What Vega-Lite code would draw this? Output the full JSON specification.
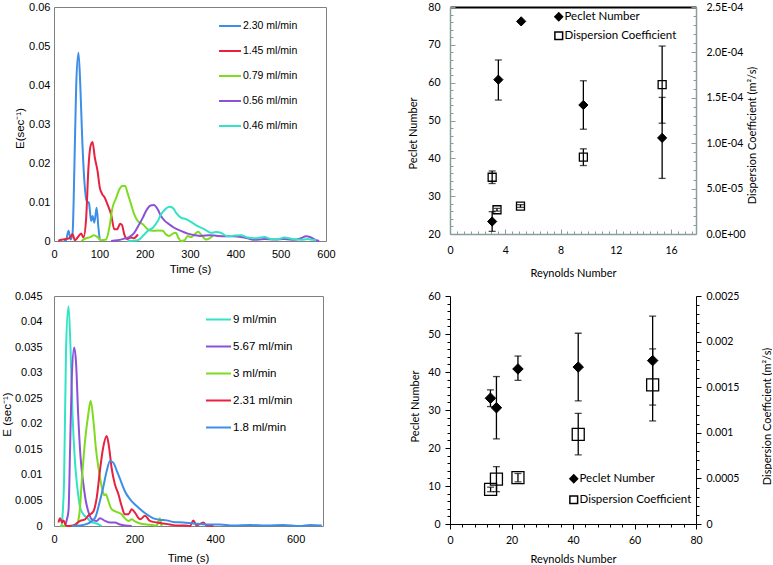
{
  "$schema": "https://vega.github.io/schema/vega-lite/v6.json",
  "background": "white",
  "padding": {"left": 0, "top": 0, "right": 0, "bottom": 0},
  "bounds": "flush",
  "columns": 2,
  "align": "each",
  "spacing": {"row": 55, "column": 124},
  "resolve": {"scale": {"x": "independent", "y": "independent", "color": "independent", "shape": "independent", "fill": "independent"}},
  "config": {
    "font": "Liberation Sans",
    "axis": {"grid": false, "labelColor": "black", "titleColor": "black", "titleFontWeight": "normal", "labelOverlap": false, "labelFlush": false},
    "legend": {"labelColor": "black"}
  },
  "datasets": {
    "tl": [
      {"s": "2.30 ml/min", "t": 22, "E": 0}, {"s": "2.30 ml/min", "t": 26, "E": 0}, {"s": "2.30 ml/min", "t": 32, "E": 0.0026}, {"s": "2.30 ml/min", "t": 37, "E": 0.0004}, {"s": "2.30 ml/min", "t": 41, "E": 0.002}, {"s": "2.30 ml/min", "t": 45, "E": 0.019}, {"s": "2.30 ml/min", "t": 49, "E": 0.04}, {"s": "2.30 ml/min", "t": 54, "E": 0.0483}, {"s": "2.30 ml/min", "t": 58, "E": 0.04}, {"s": "2.30 ml/min", "t": 62, "E": 0.027}, {"s": "2.30 ml/min", "t": 67, "E": 0.0154}, {"s": "2.30 ml/min", "t": 72, "E": 0.0103}, {"s": "2.30 ml/min", "t": 77, "E": 0.0098}, {"s": "2.30 ml/min", "t": 82, "E": 0.0051}, {"s": "2.30 ml/min", "t": 85, "E": 0.0064}, {"s": "2.30 ml/min", "t": 89, "E": 0.0047}, {"s": "2.30 ml/min", "t": 94, "E": 0.0085}, {"s": "2.30 ml/min", "t": 98, "E": 0.0034}, {"s": "2.30 ml/min", "t": 101, "E": 0.0002},
      {"s": "1.45 ml/min", "t": 10, "E": 0}, {"s": "1.45 ml/min", "t": 12, "E": 0.0002}, {"s": "1.45 ml/min", "t": 34, "E": 0.0007}, {"s": "1.45 ml/min", "t": 41, "E": 0.0017}, {"s": "1.45 ml/min", "t": 46, "E": 0.0002}, {"s": "1.45 ml/min", "t": 52, "E": 0.0009}, {"s": "1.45 ml/min", "t": 60, "E": 0.0019}, {"s": "1.45 ml/min", "t": 65, "E": 0.0009}, {"s": "1.45 ml/min", "t": 71, "E": 0.006}, {"s": "1.45 ml/min", "t": 76, "E": 0.0188}, {"s": "1.45 ml/min", "t": 80, "E": 0.024}, {"s": "1.45 ml/min", "t": 85, "E": 0.0254}, {"s": "1.45 ml/min", "t": 90, "E": 0.0214}, {"s": "1.45 ml/min", "t": 96, "E": 0.018}, {"s": "1.45 ml/min", "t": 101, "E": 0.0137}, {"s": "1.45 ml/min", "t": 106, "E": 0.0121}, {"s": "1.45 ml/min", "t": 112, "E": 0.0111}, {"s": "1.45 ml/min", "t": 118, "E": 0.0094}, {"s": "1.45 ml/min", "t": 126, "E": 0.0068}, {"s": "1.45 ml/min", "t": 133, "E": 0.003}, {"s": "1.45 ml/min", "t": 139, "E": 0.003}, {"s": "1.45 ml/min", "t": 146, "E": 0.0044}, {"s": "1.45 ml/min", "t": 150, "E": 0.0041}, {"s": "1.45 ml/min", "t": 155, "E": 0.0017}, {"s": "1.45 ml/min", "t": 162, "E": 0.0005}, {"s": "1.45 ml/min", "t": 170, "E": 0.0009}, {"s": "1.45 ml/min", "t": 176, "E": 0.0007}, {"s": "1.45 ml/min", "t": 185, "E": 0.0017},
      {"s": "0.79 ml/min", "t": 60, "E": 0}, {"s": "0.79 ml/min", "t": 71, "E": 0.0007}, {"s": "0.79 ml/min", "t": 80, "E": 0.001}, {"s": "0.79 ml/min", "t": 88, "E": 0.0015}, {"s": "0.79 ml/min", "t": 96, "E": 0.001}, {"s": "0.79 ml/min", "t": 104, "E": 0.0002}, {"s": "0.79 ml/min", "t": 115, "E": 0.0004}, {"s": "0.79 ml/min", "t": 122, "E": 0.0034}, {"s": "0.79 ml/min", "t": 129, "E": 0.0085}, {"s": "0.79 ml/min", "t": 137, "E": 0.011}, {"s": "0.79 ml/min", "t": 144, "E": 0.0132}, {"s": "0.79 ml/min", "t": 151, "E": 0.0141}, {"s": "0.79 ml/min", "t": 157, "E": 0.0141}, {"s": "0.79 ml/min", "t": 162, "E": 0.0124}, {"s": "0.79 ml/min", "t": 170, "E": 0.0094}, {"s": "0.79 ml/min", "t": 177, "E": 0.0068}, {"s": "0.79 ml/min", "t": 185, "E": 0.0051}, {"s": "0.79 ml/min", "t": 196, "E": 0.0043}, {"s": "0.79 ml/min", "t": 207, "E": 0.003}, {"s": "0.79 ml/min", "t": 218, "E": 0.0026}, {"s": "0.79 ml/min", "t": 229, "E": 0.0027}, {"s": "0.79 ml/min", "t": 240, "E": 0.0026}, {"s": "0.79 ml/min", "t": 247, "E": 0.0017}, {"s": "0.79 ml/min", "t": 254, "E": 0.0013}, {"s": "0.79 ml/min", "t": 262, "E": 0.0019}, {"s": "0.79 ml/min", "t": 269, "E": 0.0021}, {"s": "0.79 ml/min", "t": 274, "E": 0.0009}, {"s": "0.79 ml/min", "t": 280, "E": 0}, {"s": "0.79 ml/min", "t": 288, "E": 0.0002}, {"s": "0.79 ml/min", "t": 295, "E": 0.0013}, {"s": "0.79 ml/min", "t": 302, "E": 0.001}, {"s": "0.79 ml/min", "t": 310, "E": 0.0017}, {"s": "0.79 ml/min", "t": 318, "E": 0.0024}, {"s": "0.79 ml/min", "t": 324, "E": 0.0017}, {"s": "0.79 ml/min", "t": 335, "E": 0.0004}, {"s": "0.79 ml/min", "t": 343, "E": 0.0007}, {"s": "0.79 ml/min", "t": 350, "E": 0.0013},
      {"s": "0.56 ml/min", "t": 126, "E": 0}, {"s": "0.56 ml/min", "t": 140, "E": 0.0002}, {"s": "0.56 ml/min", "t": 155, "E": 0.0006}, {"s": "0.56 ml/min", "t": 166, "E": 0.001}, {"s": "0.56 ml/min", "t": 177, "E": 0.0021}, {"s": "0.56 ml/min", "t": 188, "E": 0.0043}, {"s": "0.56 ml/min", "t": 196, "E": 0.006}, {"s": "0.56 ml/min", "t": 203, "E": 0.0077}, {"s": "0.56 ml/min", "t": 213, "E": 0.0091}, {"s": "0.56 ml/min", "t": 220, "E": 0.0092}, {"s": "0.56 ml/min", "t": 229, "E": 0.0081}, {"s": "0.56 ml/min", "t": 236, "E": 0.0064}, {"s": "0.56 ml/min", "t": 245, "E": 0.0051}, {"s": "0.56 ml/min", "t": 254, "E": 0.0043}, {"s": "0.56 ml/min", "t": 265, "E": 0.0034}, {"s": "0.56 ml/min", "t": 280, "E": 0.0026}, {"s": "0.56 ml/min", "t": 295, "E": 0.0019}, {"s": "0.56 ml/min", "t": 310, "E": 0.0015}, {"s": "0.56 ml/min", "t": 324, "E": 0.0013}, {"s": "0.56 ml/min", "t": 343, "E": 0.0015}, {"s": "0.56 ml/min", "t": 361, "E": 0.0013}, {"s": "0.56 ml/min", "t": 379, "E": 0.0012}, {"s": "0.56 ml/min", "t": 398, "E": 0.0012}, {"s": "0.56 ml/min", "t": 412, "E": 0.001}, {"s": "0.56 ml/min", "t": 427, "E": 0.0007}, {"s": "0.56 ml/min", "t": 442, "E": 0.0003}, {"s": "0.56 ml/min", "t": 464, "E": 0.0005}, {"s": "0.56 ml/min", "t": 486, "E": 0.0004}, {"s": "0.56 ml/min", "t": 508, "E": 0.0005}, {"s": "0.56 ml/min", "t": 530, "E": 0.0003}, {"s": "0.56 ml/min", "t": 545, "E": 0.0007}, {"s": "0.56 ml/min", "t": 556, "E": 0.0012}, {"s": "0.56 ml/min", "t": 567, "E": 0.0009}, {"s": "0.56 ml/min", "t": 578, "E": 0.0002}, {"s": "0.56 ml/min", "t": 585, "E": 0},
      {"s": "0.46 ml/min", "t": 162, "E": 0}, {"s": "0.46 ml/min", "t": 185, "E": 0.0002}, {"s": "0.46 ml/min", "t": 196, "E": 0.0013}, {"s": "0.46 ml/min", "t": 207, "E": 0.0026}, {"s": "0.46 ml/min", "t": 218, "E": 0.0034}, {"s": "0.46 ml/min", "t": 229, "E": 0.0051}, {"s": "0.46 ml/min", "t": 236, "E": 0.0068}, {"s": "0.46 ml/min", "t": 245, "E": 0.0081}, {"s": "0.46 ml/min", "t": 254, "E": 0.0088}, {"s": "0.46 ml/min", "t": 262, "E": 0.0085}, {"s": "0.46 ml/min", "t": 269, "E": 0.0073}, {"s": "0.46 ml/min", "t": 280, "E": 0.006}, {"s": "0.46 ml/min", "t": 291, "E": 0.0056}, {"s": "0.46 ml/min", "t": 302, "E": 0.0049}, {"s": "0.46 ml/min", "t": 317, "E": 0.0038}, {"s": "0.46 ml/min", "t": 332, "E": 0.003}, {"s": "0.46 ml/min", "t": 346, "E": 0.0021}, {"s": "0.46 ml/min", "t": 357, "E": 0.0023}, {"s": "0.46 ml/min", "t": 368, "E": 0.0021}, {"s": "0.46 ml/min", "t": 383, "E": 0.0012}, {"s": "0.46 ml/min", "t": 398, "E": 0.0014}, {"s": "0.46 ml/min", "t": 412, "E": 0.0015}, {"s": "0.46 ml/min", "t": 427, "E": 0.0009}, {"s": "0.46 ml/min", "t": 442, "E": 0.0007}, {"s": "0.46 ml/min", "t": 464, "E": 0.001}, {"s": "0.46 ml/min", "t": 479, "E": 0.0005}, {"s": "0.46 ml/min", "t": 493, "E": 0.0004}, {"s": "0.46 ml/min", "t": 508, "E": 0.0009}, {"s": "0.46 ml/min", "t": 526, "E": 0.0005}, {"s": "0.46 ml/min", "t": 545, "E": 0.0003}, {"s": "0.46 ml/min", "t": 560, "E": 0.0005}, {"s": "0.46 ml/min", "t": 570, "E": 0.0003}, {"s": "0.46 ml/min", "t": 578, "E": 0.0002}
    ],
    "bl": [
      {"s": "9 ml/min", "t": 19, "E": 0}, {"s": "9 ml/min", "t": 25, "E": 0.0088}, {"s": "9 ml/min", "t": 30, "E": 0.0349}, {"s": "9 ml/min", "t": 36, "E": 0.043}, {"s": "9 ml/min", "t": 41, "E": 0.0349}, {"s": "9 ml/min", "t": 46, "E": 0.0218}, {"s": "9 ml/min", "t": 52, "E": 0.0127}, {"s": "9 ml/min", "t": 58, "E": 0.0075}, {"s": "9 ml/min", "t": 65, "E": 0.0036}, {"s": "9 ml/min", "t": 73, "E": 0.0023}, {"s": "9 ml/min", "t": 83, "E": 0.0015}, {"s": "9 ml/min", "t": 94, "E": 0.0007}, {"s": "9 ml/min", "t": 106, "E": 0.0005}, {"s": "9 ml/min", "t": 118, "E": 0},
      {"s": "5.67 ml/min", "t": 27, "E": 0}, {"s": "5.67 ml/min", "t": 31, "E": 0.001}, {"s": "5.67 ml/min", "t": 36, "E": 0.003}, {"s": "5.67 ml/min", "t": 40, "E": 0.0153}, {"s": "5.67 ml/min", "t": 44, "E": 0.0284}, {"s": "5.67 ml/min", "t": 50, "E": 0.0349}, {"s": "5.67 ml/min", "t": 55, "E": 0.0316}, {"s": "5.67 ml/min", "t": 60, "E": 0.0218}, {"s": "5.67 ml/min", "t": 66, "E": 0.0134}, {"s": "5.67 ml/min", "t": 73, "E": 0.0082}, {"s": "5.67 ml/min", "t": 79, "E": 0.0049}, {"s": "5.67 ml/min", "t": 85, "E": 0.0029}, {"s": "5.67 ml/min", "t": 94, "E": 0.0013}, {"s": "5.67 ml/min", "t": 106, "E": 0.001}, {"s": "5.67 ml/min", "t": 114, "E": 0.0015}, {"s": "5.67 ml/min", "t": 127, "E": 0.001}, {"s": "5.67 ml/min", "t": 139, "E": 0.0007}, {"s": "5.67 ml/min", "t": 151, "E": 0.0007}, {"s": "5.67 ml/min", "t": 164, "E": 0.0003}, {"s": "5.67 ml/min", "t": 176, "E": 0.0001}, {"s": "5.67 ml/min", "t": 193, "E": 0},
      {"s": "3 ml/min", "t": 15, "E": 0}, {"s": "3 ml/min", "t": 40, "E": 0}, {"s": "3 ml/min", "t": 56, "E": 0.0003}, {"s": "3 ml/min", "t": 63, "E": 0.0023}, {"s": "3 ml/min", "t": 69, "E": 0.0088}, {"s": "3 ml/min", "t": 77, "E": 0.0166}, {"s": "3 ml/min", "t": 85, "E": 0.0218}, {"s": "3 ml/min", "t": 91, "E": 0.0245}, {"s": "3 ml/min", "t": 98, "E": 0.0205}, {"s": "3 ml/min", "t": 104, "E": 0.0153}, {"s": "3 ml/min", "t": 113, "E": 0.0101}, {"s": "3 ml/min", "t": 121, "E": 0.0068}, {"s": "3 ml/min", "t": 125, "E": 0.006}, {"s": "3 ml/min", "t": 129, "E": 0.0062}, {"s": "3 ml/min", "t": 135, "E": 0.0049}, {"s": "3 ml/min", "t": 143, "E": 0.0033}, {"s": "3 ml/min", "t": 151, "E": 0.0029}, {"s": "3 ml/min", "t": 160, "E": 0.0026}, {"s": "3 ml/min", "t": 168, "E": 0.0023}, {"s": "3 ml/min", "t": 176, "E": 0.0015}, {"s": "3 ml/min", "t": 185, "E": 0.001}, {"s": "3 ml/min", "t": 193, "E": 0.0013}, {"s": "3 ml/min", "t": 201, "E": 0.0009}, {"s": "3 ml/min", "t": 214, "E": 0.0005}, {"s": "3 ml/min", "t": 230, "E": 0.0003}, {"s": "3 ml/min", "t": 242, "E": 0.0002}, {"s": "3 ml/min", "t": 255, "E": 0.0001}, {"s": "3 ml/min", "t": 263, "E": 0.0015}, {"s": "3 ml/min", "t": 267, "E": 0},
      {"s": "2.31 ml/min", "t": 11, "E": 0.0007}, {"s": "2.31 ml/min", "t": 15, "E": 0.0015}, {"s": "2.31 ml/min", "t": 20, "E": 0.0007}, {"s": "2.31 ml/min", "t": 23, "E": 0.0011}, {"s": "2.31 ml/min", "t": 31, "E": 0}, {"s": "2.31 ml/min", "t": 48, "E": 0.0001}, {"s": "2.31 ml/min", "t": 65, "E": 0.001}, {"s": "2.31 ml/min", "t": 77, "E": 0.0013}, {"s": "2.31 ml/min", "t": 85, "E": 0.002}, {"s": "2.31 ml/min", "t": 98, "E": 0.0029}, {"s": "2.31 ml/min", "t": 106, "E": 0.0055}, {"s": "2.31 ml/min", "t": 114, "E": 0.0108}, {"s": "2.31 ml/min", "t": 122, "E": 0.0153}, {"s": "2.31 ml/min", "t": 131, "E": 0.0176}, {"s": "2.31 ml/min", "t": 137, "E": 0.0153}, {"s": "2.31 ml/min", "t": 143, "E": 0.0114}, {"s": "2.31 ml/min", "t": 151, "E": 0.0082}, {"s": "2.31 ml/min", "t": 160, "E": 0.0062}, {"s": "2.31 ml/min", "t": 168, "E": 0.0039}, {"s": "2.31 ml/min", "t": 176, "E": 0.0023}, {"s": "2.31 ml/min", "t": 185, "E": 0.0023}, {"s": "2.31 ml/min", "t": 193, "E": 0.0033}, {"s": "2.31 ml/min", "t": 201, "E": 0.0026}, {"s": "2.31 ml/min", "t": 214, "E": 0.0013}, {"s": "2.31 ml/min", "t": 226, "E": 0.002}, {"s": "2.31 ml/min", "t": 238, "E": 0.001}, {"s": "2.31 ml/min", "t": 255, "E": 0.0007}, {"s": "2.31 ml/min", "t": 271, "E": 0.0005}, {"s": "2.31 ml/min", "t": 288, "E": 0.0003}, {"s": "2.31 ml/min", "t": 305, "E": 0.0001}, {"s": "2.31 ml/min", "t": 325, "E": 0.0001}, {"s": "2.31 ml/min", "t": 338, "E": 0}, {"s": "2.31 ml/min", "t": 346, "E": 0.0011}, {"s": "2.31 ml/min", "t": 354, "E": 0.0001}, {"s": "2.31 ml/min", "t": 371, "E": 0.0007}, {"s": "2.31 ml/min", "t": 379, "E": 0.0001}, {"s": "2.31 ml/min", "t": 396, "E": 0},
      {"s": "1.8 ml/min", "t": 44, "E": 0}, {"s": "1.8 ml/min", "t": 65, "E": 0.0001}, {"s": "1.8 ml/min", "t": 85, "E": 0.0005}, {"s": "1.8 ml/min", "t": 102, "E": 0.0016}, {"s": "1.8 ml/min", "t": 114, "E": 0.0049}, {"s": "1.8 ml/min", "t": 122, "E": 0.0075}, {"s": "1.8 ml/min", "t": 131, "E": 0.0108}, {"s": "1.8 ml/min", "t": 139, "E": 0.0127}, {"s": "1.8 ml/min", "t": 147, "E": 0.0124}, {"s": "1.8 ml/min", "t": 156, "E": 0.0108}, {"s": "1.8 ml/min", "t": 166, "E": 0.0088}, {"s": "1.8 ml/min", "t": 176, "E": 0.0068}, {"s": "1.8 ml/min", "t": 189, "E": 0.0052}, {"s": "1.8 ml/min", "t": 201, "E": 0.0042}, {"s": "1.8 ml/min", "t": 214, "E": 0.0033}, {"s": "1.8 ml/min", "t": 230, "E": 0.0023}, {"s": "1.8 ml/min", "t": 247, "E": 0.0015}, {"s": "1.8 ml/min", "t": 263, "E": 0.0012}, {"s": "1.8 ml/min", "t": 280, "E": 0.0011}, {"s": "1.8 ml/min", "t": 296, "E": 0.0008}, {"s": "1.8 ml/min", "t": 321, "E": 0.0007}, {"s": "1.8 ml/min", "t": 346, "E": 0.0005}, {"s": "1.8 ml/min", "t": 379, "E": 0.0003}, {"s": "1.8 ml/min", "t": 412, "E": 0.0003}, {"s": "1.8 ml/min", "t": 445, "E": 0.0001}, {"s": "1.8 ml/min", "t": 487, "E": 0.0002}, {"s": "1.8 ml/min", "t": 528, "E": 0.0001}, {"s": "1.8 ml/min", "t": 569, "E": 0.0002}, {"s": "1.8 ml/min", "t": 611, "E": 0}, {"s": "1.8 ml/min", "t": 636, "E": 0.0002}, {"s": "1.8 ml/min", "t": 665, "E": 0.0001}
    ],
    "trPe": [
      {"re": 3.05, "pe": 23.3, "lo": 20.7, "hi": 25.9},
      {"re": 3.5, "pe": 60.8, "lo": 55.4, "hi": 66.0},
      {"re": 5.15, "pe": 76.2, "lo": null, "hi": null},
      {"re": 9.65, "pe": 54.1, "lo": 47.7, "hi": 60.5},
      {"re": 15.35, "pe": 45.4, "lo": 34.7, "hi": 56.1}
    ],
    "trD": [
      {"re": 3.05, "d": 0.0000625, "lo": 0.0000556, "hi": 0.0000694},
      {"re": 3.4, "d": 0.0000267, "lo": 0.0000252, "hi": 0.0000282},
      {"re": 5.1, "d": 0.0000308, "lo": 0.0000293, "hi": 0.0000323},
      {"re": 9.65, "d": 0.0000846, "lo": 0.0000754, "hi": 0.0000938},
      {"re": 15.35, "d": 0.0001646, "lo": 0.000122, "hi": 0.000207}
    ],
    "brPe": [
      {"re": 13.15, "pe": 33.1, "lo": 30.9, "hi": 35.3},
      {"re": 15.1, "pe": 30.6, "lo": 22.4, "hi": 38.8},
      {"re": 22.1, "pe": 40.8, "lo": 37.8, "hi": 44.2},
      {"re": 41.7, "pe": 41.3, "lo": 32.4, "hi": 50.2},
      {"re": 65.9, "pe": 43.0, "lo": 31.3, "hi": 54.7}
    ],
    "brD": [
      {"re": 13.2, "d": 0.000379, "lo": 0.000354, "hi": 0.000404},
      {"re": 15.1, "d": 0.000492, "lo": 0.000355, "hi": 0.000629},
      {"re": 22.1, "d": 0.000508, "lo": 0.000462, "hi": 0.000554},
      {"re": 41.7, "d": 0.000983, "lo": 0.000758, "hi": 0.001213},
      {"re": 65.9, "d": 0.001525, "lo": 0.00113, "hi": 0.00192}
    ]
  },
  "concat": [
    {
      "width": 272, "height": 234,
      "view": {"stroke": "#808080", "strokeWidth": 1},
      "data": {"name": "tl"},
      "mark": {"type": "line", "strokeWidth": 2, "interpolate": "monotone"},
      "encoding": {
        "x": {"field": "t", "type": "quantitative", "scale": {"domain": [0, 600], "nice": false},
          "axis": {"title": "Time (s)", "values": [0, 100, 200, 300, 400, 500, 600], "domain": false, "ticks": false, "labelOverlap": false, "labelPadding": 7, "labelFont": "Liberation Sans", "labelFontSize": 11, "titleFont": "Liberation Sans", "titleFontSize": 11.5, "titleX": 136, "titleY": 28, "titleBaseline": "middle", "titleAlign": "center"}},
        "y": {"field": "E", "type": "quantitative", "scale": {"domain": [0, 0.06], "nice": false},
          "axis": {"title": "E(sec⁻¹)", "values": [0, 0.01, 0.02, 0.03, 0.04, 0.05, 0.06], "format": ".2~f", "domain": false, "ticks": false, "labelOverlap": false, "labelPadding": 4, "labelFont": "Liberation Sans", "labelFontSize": 11, "titleFont": "Liberation Sans", "titleFontSize": 11.5, "titleX": -34, "titleY": 121, "titleAngle": -90, "titleAlign": "center", "titleBaseline": "middle"}},
        "color": {"field": "s", "type": "nominal",
          "scale": {"domain": ["2.30 ml/min", "1.45 ml/min", "0.79 ml/min", "0.56 ml/min", "0.46 ml/min"], "range": ["#3d8ee6", "#e8213f", "#7ddc1f", "#8b52d8", "#33e3c6"]},
          "legend": {"title": null, "orient": "none", "legendX": 164, "legendY": 7, "symbolType": "stroke", "symbolSize": 484, "symbolStrokeWidth": 2, "labelFont": "Liberation Sans", "labelFontSize": 10.5, "labelOffset": 1, "rowPadding": 7}}
      }
    },
    {
      "width": 246, "height": 227,
      "view": {"stroke": null},
      "layer": [
        {
          "data": {"name": "trPe"},
          "layer": [
            {"mark": {"type": "errorbar", "ticks": {"size": 7}, "color": "black", "thickness": 1.3},
             "encoding": {
               "x": {"field": "re", "type": "quantitative", "title": "Reynolds Number", "scale": {"domain": [0, 17.8], "nice": false, "zero": false}},
               "y": {"field": "lo", "type": "quantitative", "title": "Peclet Number", "scale": {"domain": [20, 80], "nice": false, "zero": false}},
               "y2": {"field": "hi"}}},
            {"mark": {"type": "point", "filled": true, "stroke": "black", "strokeWidth": 1, "opacity": 1, "size": 85},
             "encoding": {
               "x": {"field": "re", "type": "quantitative", "title": "Reynolds Number", "scale": {"domain": [0, 17.8], "nice": false, "zero": false},
                 "axis": {"title": "Reynolds Number", "tickCount": 1000, "values": [0, 0.5, 1, 1.5, 2, 2.5, 3, 3.5, 4, 4.5, 5, 5.5, 6, 6.5, 7, 7.5, 8, 8.5, 9, 9.5, 10, 10.5, 11, 11.5, 12, 12.5, 13, 13.5, 14, 14.5, 15, 15.5, 16, 16.5, 17, 17.5],
                   "labelExpr": "datum.value % 4 == 0 ? format(datum.value, 'd') : ' '", "tickSize": {"condition": {"test": "datum.value % 4 == 0", "value": -5}, "value": -3}, "labelOverlap": false,
                   "labelFontSize": {"condition": {"test": "datum.value % 4 == 0", "value": 10.5}, "value": 0},
                   "domainColor": "#8a9c9c", "domainWidth": 1.5, "tickColor": "#8a9c9c", "labelPadding": 16, "labelFont": "Lato", "titleFont": "Lato", "titleFontSize": 11, "titleX": 123, "titleY": 39, "titleBaseline": "middle", "titleAlign": "center"}},
               "y": {"field": "pe", "type": "quantitative", "title": "Peclet Number", "scale": {"domain": [20, 80], "nice": false, "zero": false},
                 "axis": {"title": "Peclet Number", "orient": "left", "tickCount": 1000, "values": [20, 22, 24, 26, 28, 30, 32, 34, 36, 38, 40, 42, 44, 46, 48, 50, 52, 54, 56, 58, 60, 62, 64, 66, 68, 70, 72, 74, 76, 78, 80],
                   "labelExpr": "datum.value % 10 == 0 ? format(datum.value, 'd') : ' '", "tickSize": {"condition": {"test": "datum.value % 10 == 0", "value": -5}, "value": -3}, "labelOverlap": false,
                   "labelFontSize": {"condition": {"test": "datum.value % 10 == 0", "value": 10.5}, "value": 0},
                   "domainColor": "#8a9c9c", "domainWidth": 1.5, "tickColor": "#8a9c9c", "labelPadding": 15, "labelFont": "Lato", "titleFont": "Lato", "titleFontSize": 11, "titleX": -37, "titleY": 126, "titleAngle": -90, "titleBaseline": "middle", "titleAlign": "center"}},
               "shape": {"datum": "Peclet Number", "type": "nominal", "scale": {"domain": ["Peclet Number", "Dispersion Coefficient"], "range": ["diamond", "square"]},
                 "legend": {"title": null, "orient": "none", "legendX": 103, "legendY": 4, "symbolSize": 60, "labelFont": "Lato", "labelFontSize": 11.5, "labelOffset": 0, "rowPadding": 4,
                   "encode": {"symbols": {"update": {"stroke": {"value": "black"}, "strokeWidth": {"value": 1.2}}}}}},
               "fill": {"datum": "Peclet Number", "type": "nominal", "scale": {"domain": ["Peclet Number", "Dispersion Coefficient"], "range": ["black", "transparent"]},
                 "legend": {"title": null, "orient": "none", "legendX": 103, "legendY": 4, "symbolSize": 60, "labelFont": "Lato", "labelFontSize": 11.5, "labelOffset": 0, "rowPadding": 4,
                   "encode": {"symbols": {"update": {"stroke": {"value": "black"}, "strokeWidth": {"value": 1.2}}}}}}
             }}
          ]
        },
        {
          "data": {"name": "trD"},
          "layer": [
            {"mark": {"type": "errorbar", "ticks": {"size": 7}, "color": "black", "thickness": 1.3},
             "encoding": {
               "x": {"field": "re", "type": "quantitative", "scale": {"domain": [0, 17.8], "nice": false, "zero": false}},
               "y": {"field": "lo", "type": "quantitative", "title": "Dispersion Coefficient (m²/s)", "scale": {"domain": [0, 0.00025], "nice": false, "zero": false}},
               "y2": {"field": "hi"}}},
            {"mark": {"type": "point", "filled": true, "stroke": "black", "strokeWidth": 1.3, "opacity": 1, "size": 64},
             "encoding": {
               "x": {"field": "re", "type": "quantitative", "scale": {"domain": [0, 17.8], "nice": false, "zero": false},
                 "axis": {"orient": "top", "title": null, "labels": false, "ticks": false, "domainColor": "black", "domainWidth": 2}},
               "y": {"field": "d", "type": "quantitative", "title": "Dispersion Coefficient (m²/s)", "scale": {"domain": [0, 0.00025], "nice": false, "zero": false},
                 "axis": {"title": "Dispersion Coefficient (m²/s)", "orient": "right", "tickCount": 1000, "values": [0, 0.00001, 0.00002, 0.00003, 0.00004, 0.00005, 0.00006, 0.00007, 0.00008, 0.00009, 0.0001, 0.00011, 0.00012, 0.00013, 0.00014, 0.00015, 0.00016, 0.00017, 0.00018, 0.00019, 0.0002, 0.00021, 0.00022, 0.00023, 0.00024, 0.00025],
                   "labelExpr": "abs(datum.value/0.00005 - round(datum.value/0.00005)) < 0.001 ? (datum.value == 0 ? '0.0E+00' : (datum.value < 0.0000999 ? format(datum.value*100000, '.1f') + 'E-05' : format(datum.value*10000, '.1f') + 'E-04')) : ' '",
                   "tickSize": {"condition": {"test": "abs(datum.value/0.00005 - round(datum.value/0.00005)) < 0.001", "value": -5}, "value": -3}, "labelOverlap": false,
                   "labelFontSize": {"condition": {"test": "abs(datum.value/0.00005 - round(datum.value/0.00005)) < 0.001", "value": 10.5}, "value": 0},
                   "domainColor": "#8a9c9c", "domainWidth": 1.5, "tickColor": "#8a9c9c", "labelPadding": 15, "labelFont": "Lato", "titleFont": "Lato", "titleFontSize": 11, "titleX": 56, "titleY": 128, "titleAngle": -90, "titleBaseline": "middle", "titleAlign": "center"}},
               "shape": {"datum": "Dispersion Coefficient", "type": "nominal", "scale": {"domain": ["Peclet Number", "Dispersion Coefficient"], "range": ["diamond", "square"]}},
               "fill": {"datum": "Dispersion Coefficient", "type": "nominal", "scale": {"domain": ["Peclet Number", "Dispersion Coefficient"], "range": ["black", "transparent"]}}
             }}
          ]
        }
      ],
      "resolve": {"scale": {"y": "independent"}, "axis": {"x": "independent"}}
    },
    {
      "width": 269, "height": 230,
      "view": {"stroke": "#808080", "strokeWidth": 1},
      "data": {"name": "bl"},
      "mark": {"type": "line", "strokeWidth": 2, "interpolate": "monotone"},
      "encoding": {
        "x": {"field": "t", "type": "quantitative", "scale": {"domain": [0, 668], "nice": false},
          "axis": {"title": "Time (s)", "values": [0, 200, 400, 600], "domain": false, "ticks": false, "labelOverlap": false, "labelPadding": 7, "labelFont": "Liberation Sans", "labelFontSize": 11, "titleFont": "Liberation Sans", "titleFontSize": 11.5, "titleX": 134, "titleY": 32, "titleBaseline": "middle", "titleAlign": "center"}},
        "y": {"field": "E", "type": "quantitative", "scale": {"domain": [0, 0.045], "nice": false},
          "axis": {"title": "E (sec⁻¹)", "values": [0, 0.005, 0.01, 0.015, 0.02, 0.025, 0.03, 0.035, 0.04, 0.045], "format": ".3~f", "domain": false, "ticks": false, "labelOverlap": false, "labelPadding": 12, "labelFont": "Liberation Sans", "labelFontSize": 11, "titleFont": "Liberation Sans", "titleFontSize": 11.5, "titleX": -47, "titleY": 118, "titleAngle": -90, "titleAlign": "center", "titleBaseline": "middle"}},
        "color": {"field": "s", "type": "nominal",
          "scale": {"domain": ["9 ml/min", "5.67 ml/min", "3 ml/min", "2.31 ml/min", "1.8 ml/min"], "range": ["#33e3c6", "#8b52d8", "#7ddc1f", "#e8213f", "#3d8ee6"]},
          "legend": {"title": null, "orient": "none", "legendX": 151, "legendY": 10, "symbolType": "stroke", "symbolSize": 625, "symbolStrokeWidth": 2, "labelFont": "Liberation Sans", "labelFontSize": 11.5, "labelOffset": 1, "rowPadding": 8}}
      }
    },
    {
      "width": 246, "height": 228,
      "view": {"stroke": null},
      "layer": [
        {
          "data": {"name": "brPe"},
          "layer": [
            {"mark": {"type": "errorbar", "ticks": {"size": 7}, "color": "black", "thickness": 1.3},
             "encoding": {
               "x": {"field": "re", "type": "quantitative", "title": "Reynolds Number", "scale": {"domain": [0, 80], "nice": false, "zero": false}},
               "y": {"field": "lo", "type": "quantitative", "title": "Peclet Number", "scale": {"domain": [0, 60], "nice": false}},
               "y2": {"field": "hi"}}},
            {"mark": {"type": "point", "filled": true, "stroke": "black", "strokeWidth": 1, "opacity": 1, "size": 110},
             "encoding": {
               "x": {"field": "re", "type": "quantitative", "title": "Reynolds Number", "scale": {"domain": [0, 80], "nice": false, "zero": false},
                 "axis": {"title": "Reynolds Number", "tickCount": 1000, "values": [0, 4, 8, 12, 16, 20, 24, 28, 32, 36, 40, 44, 48, 52, 56, 60, 64, 68, 72, 76, 80],
                   "labelExpr": "datum.value % 20 == 0 ? format(datum.value, 'd') : ' '", "tickSize": {"condition": {"test": "datum.value % 20 == 0", "value": 5}, "value": 3}, "labelOverlap": false,
                   "labelFontSize": {"condition": {"test": "datum.value % 20 == 0", "value": 10.5}, "value": 0},
                   "domainColor": "black", "tickColor": "black", "labelPadding": 6, "labelFont": "Lato", "titleFont": "Lato", "titleFontSize": 11, "titleX": 123, "titleY": 35, "titleBaseline": "middle", "titleAlign": "center"}},
               "y": {"field": "pe", "type": "quantitative", "title": "Peclet Number", "scale": {"domain": [0, 60], "nice": false},
                 "axis": {"title": "Peclet Number", "orient": "left", "tickCount": 1000, "values": [0, 2, 4, 6, 8, 10, 12, 14, 16, 18, 20, 22, 24, 26, 28, 30, 32, 34, 36, 38, 40, 42, 44, 46, 48, 50, 52, 54, 56, 58, 60],
                   "labelExpr": "datum.value % 10 == 0 ? format(datum.value, 'd') : ' '", "tickSize": {"condition": {"test": "datum.value % 10 == 0", "value": 5}, "value": 3}, "labelOverlap": false,
                   "labelFontSize": {"condition": {"test": "datum.value % 10 == 0", "value": 10.5}, "value": 0},
                   "domainColor": "black", "tickColor": "black", "labelPadding": 5, "labelFont": "Lato", "titleFont": "Lato", "titleFontSize": 11, "titleX": -35, "titleY": 110, "titleAngle": -90, "titleBaseline": "middle", "titleAlign": "center"}},
               "shape": {"datum": "Peclet Number", "type": "nominal", "scale": {"domain": ["Peclet Number", "Dispersion Coefficient"], "range": ["diamond", "square"]},
                 "legend": {"title": null, "orient": "none", "legendX": 118, "legendY": 177, "symbolSize": 60, "labelFont": "Lato", "labelFontSize": 11.5, "labelOffset": 0, "rowPadding": 6,
                   "encode": {"symbols": {"update": {"stroke": {"value": "black"}, "strokeWidth": {"value": 1.2}}}}}},
               "fill": {"datum": "Peclet Number", "type": "nominal", "scale": {"domain": ["Peclet Number", "Dispersion Coefficient"], "range": ["black", "transparent"]},
                 "legend": {"title": null, "orient": "none", "legendX": 118, "legendY": 177, "symbolSize": 60, "labelFont": "Lato", "labelFontSize": 11.5, "labelOffset": 0, "rowPadding": 6,
                   "encode": {"symbols": {"update": {"stroke": {"value": "black"}, "strokeWidth": {"value": 1.2}}}}}}
             }}
          ]
        },
        {
          "data": {"name": "brD"},
          "layer": [
            {"mark": {"type": "errorbar", "ticks": {"size": 7}, "color": "black", "thickness": 1.3},
             "encoding": {
               "x": {"field": "re", "type": "quantitative", "title": "Reynolds Number", "scale": {"domain": [0, 80], "nice": false, "zero": false}},
               "y": {"field": "lo", "type": "quantitative", "title": "Dispersion Coefficient (m²/s)", "scale": {"domain": [0, 0.0025], "nice": false}},
               "y2": {"field": "hi"}}},
            {"mark": {"type": "point", "filled": true, "stroke": "black", "strokeWidth": 1.3, "opacity": 1, "size": 144},
             "encoding": {
               "x": {"field": "re", "type": "quantitative", "title": "Reynolds Number", "scale": {"domain": [0, 80], "nice": false, "zero": false}},
               "y": {"field": "d", "type": "quantitative", "title": "Dispersion Coefficient (m²/s)", "scale": {"domain": [0, 0.0025], "nice": false},
                 "axis": {"title": "Dispersion Coefficient (m²/s)", "orient": "right", "tickCount": 1000, "values": [0, 0.0001, 0.0002, 0.0003, 0.0004, 0.0005, 0.0006, 0.0007, 0.0008, 0.0009, 0.001, 0.0011, 0.0012, 0.0013, 0.0014, 0.0015, 0.0016, 0.0017, 0.0018, 0.0019, 0.002, 0.0021, 0.0022, 0.0023, 0.0024, 0.0025],
                   "labelExpr": "abs(datum.value/0.0005 - round(datum.value/0.0005)) < 0.001 ? format(datum.value, '.4~f') : ' '",
                   "tickSize": {"condition": {"test": "abs(datum.value/0.0005 - round(datum.value/0.0005)) < 0.001", "value": 5}, "value": 3}, "labelOverlap": false,
                   "labelFontSize": {"condition": {"test": "abs(datum.value/0.0005 - round(datum.value/0.0005)) < 0.001", "value": 10.5}, "value": 0},
                   "domainColor": "black", "tickColor": "black", "labelPadding": 5, "labelFont": "Lato", "titleFont": "Lato", "titleFontSize": 11, "titleX": 71, "titleY": 120, "titleAngle": -90, "titleBaseline": "middle", "titleAlign": "center"}},
               "shape": {"datum": "Dispersion Coefficient", "type": "nominal", "scale": {"domain": ["Peclet Number", "Dispersion Coefficient"], "range": ["diamond", "square"]}},
               "fill": {"datum": "Dispersion Coefficient", "type": "nominal", "scale": {"domain": ["Peclet Number", "Dispersion Coefficient"], "range": ["black", "transparent"]}}
             }}
          ]
        }
      ],
      "resolve": {"scale": {"y": "independent"}}
    }
  ]
}
